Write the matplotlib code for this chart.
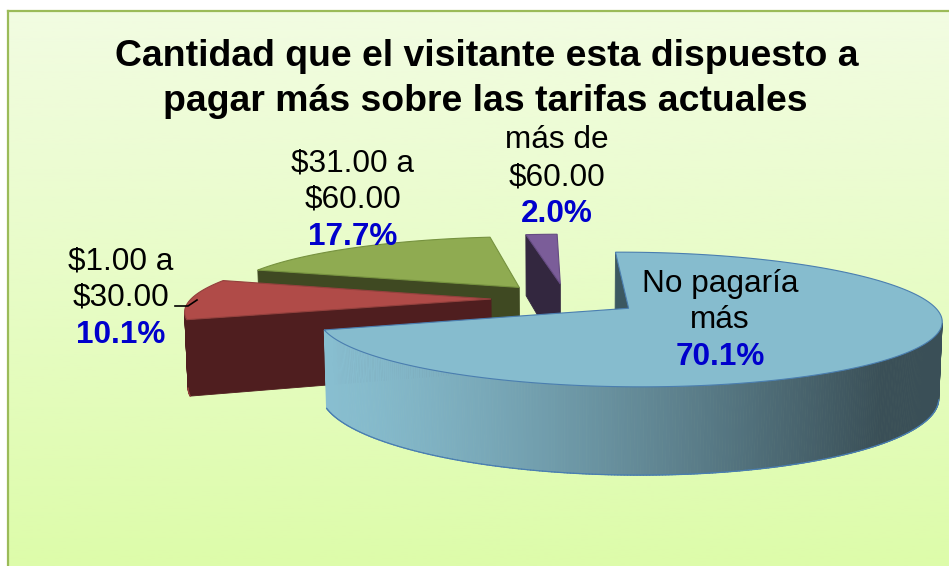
import numpy as np
import matplotlib
matplotlib.use("Agg")
import matplotlib.pyplot as plt
from matplotlib.patches import Polygon
from matplotlib.colors import to_rgb

# ---------------- data ----------------
categories = ["$1.00 a\n$30.00", "$31.00 a\n$60.00", "más de\n$60.00", "No pagaría\nmás"]
values = [10.1, 17.7, 2.0, 70.1]
pct_labels = ["10.1%", "17.7%", "2.0%", "70.1%"]
title_lines = ["Cantidad que el visitante esta dispuesto a",
               "pagar más sobre las tarifas actuales"]

# ---------------- styles ----------------
top_colors = ["#B04B48", "#8FAB51", "#7B5D99", "#86BCCE"]
side_colors = ["#4F1E1F", "#3F4922", "#33273F", "#3C5861"]
edge_colors = ["#93403D", "#76923F", "#654B82", "#4A7EB0"]
wall_light = np.array(to_rgb("#88BED0"))
wall_dark = np.array(to_rgb("#3A4F57"))
FONT = ["Liberation Sans", "DejaVu Sans"]

W, H = 949, 566
fig = plt.figure(figsize=(W / 100, H / 100), dpi=100)
ax = fig.add_axes([0, 0, 1, 1])
ax.axis("off")

# background gradient + border
g = np.linspace(0, 1, 256)[:, None, None]
c_top = np.array([242, 252, 226]) / 255
c_bot = np.array([221, 252, 170]) / 255
img = c_top[None, None, :] * (1 - g) + c_bot[None, None, :] * g
ax.imshow(img, extent=[8.5, W, H, 10.5], aspect="auto", zorder=0)
ax.plot([8.5, 8.5], [H, 10.5], color="#9BBB59", lw=1.6, zorder=1)
ax.plot([8.5, W], [10.5, 10.5], color="#9BBB59", lw=1.6, zorder=1)

# ---------------- 3D pie projection ----------------
D = 6.0
F = 1800.0
SPHI = 0.208
CPHI = np.sqrt(1 - SPHI ** 2)
CX, CY = 566.0, 299.0
HGT = 0.25
EXPL = 0.25
START = 198.3
cam = np.array([0.0, -D * CPHI, D * SPHI])


def proj(X, Y, Z):
    d = D + Y * CPHI - Z * SPHI
    u = Y * SPHI + Z * CPHI
    return (CX + F * X / d, CY - F * u / d)


def depth(X, Y, Z):
    return D + Y * CPHI - Z * SPHI


fr = np.array(values) / np.sum(values) * 360.0
bounds = START - np.concatenate([[0], np.cumsum(fr)])

slices = []
for i in range(len(values)):
    a_hi, a_lo = bounds[i], bounds[i + 1]
    mid = np.radians((a_hi + a_lo) / 2)
    ox, oy = EXPL * np.cos(mid), EXPL * np.sin(mid)
    slices.append((depth(ox, oy, 0), i, a_lo, a_hi, ox, oy))
slices.sort(key=lambda s: -s[0])

z = 5
for _, i, a_lo, a_hi, ox, oy in slices:
    n = max(8, int((a_hi - a_lo) * 2))
    th = np.radians(np.linspace(a_lo, a_hi, n))
    faces = []
    # radial faces
    for ang, sgn in [(a_hi, 1.0), (a_lo, -1.0)]:
        t = np.radians(ang)
        nrm = sgn * np.array([-np.sin(t), np.cos(t), 0.0])
        P = np.array([ox + 0.5 * np.cos(t), oy + 0.5 * np.sin(t), -HGT / 2])
        if nrm @ (cam - P) > 0:
            quad = [proj(ox, oy, 0), proj(ox + np.cos(t), oy + np.sin(t), 0),
                    proj(ox + np.cos(t), oy + np.sin(t), -HGT), proj(ox, oy, -HGT)]
            faces.append((depth(*P), quad, side_colors[i], side_colors[i]))
    # outer wall
    bottom_edge = []
    for k in range(n - 1):
        tm = 0.5 * (th[k] + th[k + 1])
        nrm = np.array([np.cos(tm), np.sin(tm), 0.0])
        P = np.array([ox + np.cos(tm), oy + np.sin(tm), -HGT / 2])
        if nrm @ (cam - P) > 0:
            p1 = (ox + np.cos(th[k]), oy + np.sin(th[k]))
            p2 = (ox + np.cos(th[k + 1]), oy + np.sin(th[k + 1]))
            quad = [proj(*p1, 0), proj(*p2, 0), proj(*p2, -HGT), proj(*p1, -HGT)]
            if i == 3:
                sx = proj(*P)[0]
                tt = np.clip((sx - 330) / (880 - 330), 0, 1) ** 1.3
                col = tuple(wall_light * (1 - tt) + wall_dark * tt)
            else:
                col = side_colors[i]
            faces.append((depth(*P), quad, col, col))
            bottom_edge.append((proj(*p1, -HGT), proj(*p2, -HGT)))
    faces.sort(key=lambda f: -f[0])
    for _, quad, fc, ec in faces:
        ax.add_patch(Polygon(quad, closed=True, facecolor=fc, edgecolor=ec,
                             lw=0.6, zorder=z))
    z += 1
    for (q1, q2) in bottom_edge:
        ax.plot([q1[0], q2[0]], [q1[1], q2[1]], color=edge_colors[i], lw=0.9,
                zorder=z, solid_capstyle="round")
    top = [proj(ox, oy, 0)] + [proj(ox + np.cos(t), oy + np.sin(t), 0) for t in th]
    ax.add_patch(Polygon(top, closed=True, facecolor=top_colors[i],
                         edgecolor=edge_colors[i], lw=0.8, zorder=z + 1))
    z += 2

# ---------------- text ----------------
title_pos = [(487, 66), (485, 111)]
for line, (x, y) in zip(title_lines, title_pos):
    ax.text(x, y, line, ha="center", va="baseline", fontsize=26.9,
            fontweight="bold", family=FONT, color="black", parse_math=False,
            zorder=50)

label_pos = [(120.5, [269, 305, 343]),
             (353, [171, 208, 245]),
             (557, [148, 185, 222]),
             (720, [292, 328, 365])]
for cat, pct, (x, ys) in zip(categories, pct_labels, label_pos):
    lines = cat.split("\n")
    for line, y in zip(lines, ys):
        ax.text(x, y, line, ha="center", va="baseline", fontsize=22.7,
                family=FONT, color="black", parse_math=False, zorder=50)
    ax.text(x, ys[len(lines)], pct, ha="center", va="baseline", fontsize=22.7,
            fontweight="bold", family=FONT, color="#0000CC", parse_math=False,
            zorder=50)

# leader line for the first label
ax.plot([175, 188, 197], [306, 306, 300], color="black", lw=1.2, zorder=50)

ax.set_xlim(0, W)
ax.set_ylim(H, 0)
fig.savefig("out.png", dpi=100, facecolor="white")
